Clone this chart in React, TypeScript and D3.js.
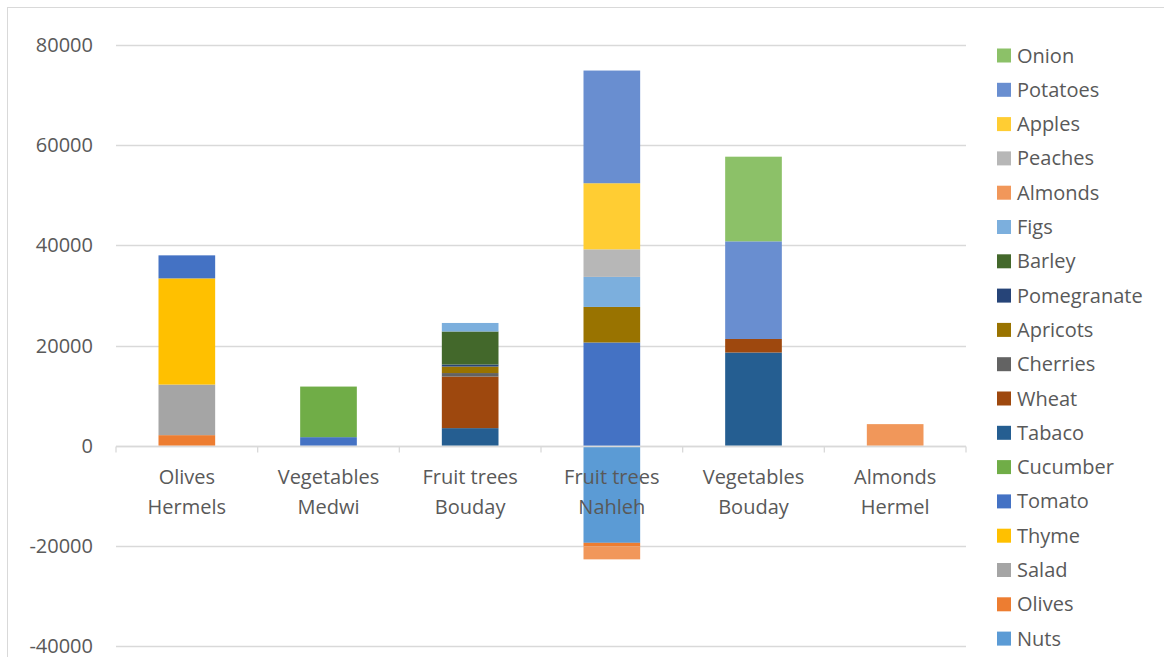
import * as d3 from "d3";
import { useEffect, useRef } from "react";

// categories (two-line labels)
const categories = [
  ["Olives", "Hermels"],
  ["Vegetables", "Medwi"],
  ["Fruit trees", "Bouday"],
  ["Fruit trees", "Nahleh"],
  ["Vegetables", "Bouday"],
  ["Almonds", "Hermel"],
];

// series in stacking order (first = bottom of the stack)
const seriesNames = [
  "Nuts", "Olives", "Salad", "Thyme", "Tomato", "Cucumber", "Tabaco", "Wheat", "Cherries",
  "Apricots", "Pomegranate", "Barley", "Figs", "Almonds", "Peaches", "Apples", "Potatoes", "Onion",
];

const nuts = [0, 0, 0, -19400, 0, 0];
const olives = [2100, 0, 0, -700, 0, 0];
const salad = [10100, 0, 0, 0, 0, 0];
const thyme = [21200, 0, 0, 0, 0, 0];
const tomato = [4600, 1700, 0, 20600, 0, 0];
const cucumber = [0, 10100, 0, 0, 0, 0];
const tabaco = [0, 0, 3500, 0, 18600, 0];
const wheat = [0, 0, 10300, 0, 2700, 0];
const cherries = [0, 0, 700, 0, 0, 0];
const apricots = [0, 0, 1300, 7100, 0, 0];
const pomegranate = [0, 0, 400, 0, 0, 0];
const barley = [0, 0, 6600, 0, 0, 0];
const figs = [0, 0, 1700, 6000, 0, 0];
const almonds = [0, 0, 0, -2600, 0, 4300];
const peaches = [0, 0, 0, 5500, 0, 0];
const apples = [0, 0, 0, 13200, 0, 0];
const potatoes = [0, 0, 0, 22500, 19500, 0];
const onion = [0, 0, 0, 0, 16900, 0];

const seriesValues = [
  nuts, olives, salad, thyme, tomato, cucumber, tabaco, wheat, cherries,
  apricots, pomegranate, barley, figs, almonds, peaches, apples, potatoes, onion,
];

const colors = [
  "#5B9BD5", "#ED7D31", "#A5A5A5", "#FFC000", "#4472C4", "#70AD47", "#255E91", "#9E480E", "#636363",
  "#997300", "#264478", "#43682B", "#7CAFDD", "#F1975A", "#B7B7B7", "#FFCD33", "#698ED0", "#8CC168",
];

const yTicks = [-40000, -20000, 0, 20000, 40000, 60000, 80000];

const W = 1164;
const H = 657;
const FONT = "'Open Sans', sans-serif";

export default function App() {
  const ref = useRef<SVGSVGElement>(null);

  useEffect(() => {
    const svg = d3.select(ref.current);
    svg.selectAll("*").remove();

    const left = 116, right = 966, top = 45, bottom = 646;

    const x = d3.scaleBand<number>()
      .domain(d3.range(categories.length))
      .range([left, right])
      .paddingInner(0.6)
      .paddingOuter(0.3);
    const band = (right - left) / categories.length;

    const y = d3.scaleLinear().domain([-40000, 80000]).range([bottom, top]);

    // chart border
    svg.append("rect")
      .attr("x", 7.5).attr("y", 7.5)
      .attr("width", W + 20).attr("height", H + 20)
      .attr("fill", "white").attr("stroke", "#D9D9D9");

    // gridlines
    svg.append("g").selectAll("line")
      .data(yTicks)
      .enter().append("line")
      .attr("x1", left).attr("x2", right)
      .attr("y1", (d) => Math.round(y(d)) + 0.5)
      .attr("y2", (d) => Math.round(y(d)) + 0.5)
      .attr("stroke", "#D9D9D9").attr("stroke-width", 1.3);

    // y tick labels
    svg.append("g").selectAll("text")
      .data(yTicks)
      .enter().append("text")
      .attr("x", 93)
      .attr("y", (d) => y(d))
      .attr("dy", "0.35em")
      .attr("text-anchor", "end")
      .attr("font-family", FONT).attr("font-size", 20)
      .attr("fill", "#595959")
      .text((d) => String(d));

    // stacks
    const table = categories.map((_, i) => {
      const row: Record<string, number> = {};
      seriesNames.forEach((s, k) => (row[s] = seriesValues[k][i]));
      return row;
    });
    const stacked = d3.stack<Record<string, number>>()
      .keys(seriesNames)
      .offset(d3.stackOffsetDiverging)(table);

    const g = svg.append("g");
    stacked.forEach((layer, k) => {
      g.append("g").attr("fill", colors[k])
        .selectAll("rect")
        .data(layer.map((d, i) => ({ d, i })).filter((e) => e.d[1] - e.d[0] !== 0))
        .enter().append("rect")
        .attr("x", (e) => x(e.i)!)
        .attr("width", x.bandwidth())
        .attr("y", (e) => y(Math.max(e.d[0], e.d[1])))
        .attr("height", (e) => Math.abs(y(e.d[0]) - y(e.d[1])));
    });

    // zero axis line with category tick marks
    const y0 = Math.round(y(0)) + 0.5;
    svg.append("line")
      .attr("x1", left).attr("x2", right)
      .attr("y1", y0).attr("y2", y0)
      .attr("stroke", "#D9D9D9").attr("stroke-width", 1.3);
    svg.append("g").selectAll("line")
      .data(d3.range(categories.length + 1))
      .enter().append("line")
      .attr("x1", (i) => left + i * band).attr("x2", (i) => left + i * band)
      .attr("y1", y0).attr("y2", y0 + 6)
      .attr("stroke", "#D9D9D9").attr("stroke-width", 1.3);

    // category labels
    const cat = svg.append("g").selectAll("text")
      .data(categories)
      .enter().append("text")
      .attr("text-anchor", "middle")
      .attr("font-family", FONT).attr("font-size", 20)
      .attr("fill", "#595959");
    cat.each(function (lines, i) {
      const t = d3.select(this);
      lines.forEach((ln, j) => {
        t.append("tspan")
          .attr("x", x(i)! + x.bandwidth() / 2)
          .attr("y", 477 + j * 30)
          .attr("dy", "0.35em")
          .text(ln);
      });
    });

    // legend (reverse order, top = last series)
    const legendItems = seriesNames.map((s, k) => ({ s, c: colors[k] })).reverse();
    const lg = svg.append("g").selectAll("g")
      .data(legendItems)
      .enter().append("g")
      .attr("transform", (_, i) => `translate(997, ${55.5 + i * 34.3})`);
    lg.append("rect")
      .attr("x", 0).attr("y", -7).attr("width", 14).attr("height", 14)
      .attr("fill", (d) => d.c);
    lg.append("text")
      .attr("x", 20).attr("y", 0).attr("dy", "0.35em")
      .attr("font-family", FONT).attr("font-size", 20)
      .attr("fill", "#595959")
      .text((d) => d.s);
  }, []);

  return (
    <div style={{ position: "fixed", left: 0, top: 0 }}>
      <svg ref={ref} width={W} height={H} style={{ display: "block" }} />
    </div>
  );
}
